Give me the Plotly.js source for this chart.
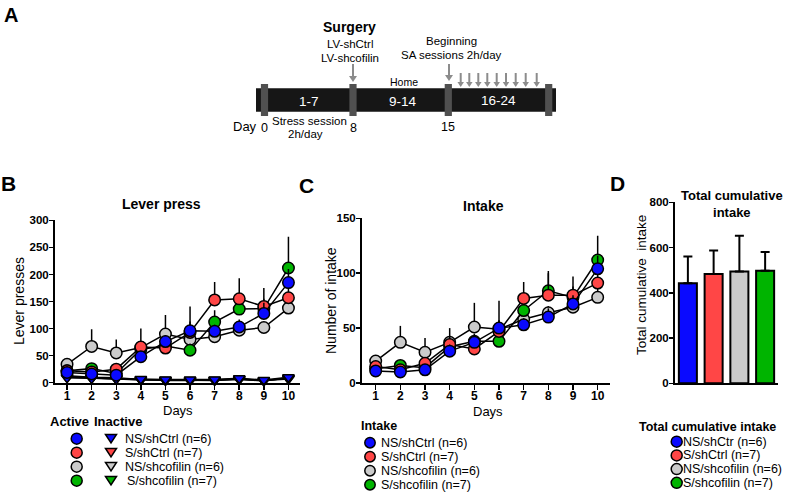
<!DOCTYPE html>
<html><head><meta charset="utf-8">
<script src="https://cdn.plot.ly/plotly-3.0.1.min.js"></script>
<style>html,body{margin:0;padding:0;background:#fff}#chart{width:789px;height:494px}</style>
</head><body><div id="chart"></div>
<script>
// ---------- data ----------
const groups = ['NS/shCtrl (n=6)', 'S/shCtrl (n=7)', 'NS/shcofilin (n=6)', 'S/shcofilin (n=7)'];
const groupsD = ['NS/shCtr (n=6)', 'S/shCtrl (n=7)', 'NS/shcofilin (n=6)', 'S/shcofilin (n=7)'];
const colors = ['#0a0aff', '#ff4646', '#cbcbcb', '#00b400'];
const days = [1, 2, 3, 4, 5, 6, 7, 8, 9, 10];

// B: lever presses, active lever (mean) and upward SEM
const activeNSshCtrl    = [19, 16, 14, 48, 76, 96, 95, 103, 128, 185];
const activeSshCtrl     = [22, 20, 25, 66, 64, 93, 153, 155, 141, 157];
const activeNSshcofilin = [34, 67, 55, 65, 90, 80, 85, 97, 102, 138];
const activeSshcofilin  = [22, 26, 17, 62, 68, 60, 112, 136, 137, 212];
const activeNSshCtrlSem    = [5, 4, 4, 10, 12, 45, 12, 14, 20, 25];
const activeSshCtrlSem     = [6, 5, 6, 34, 15, 20, 33, 38, 34, 30];
const activeNSshcofilinSem = [6, 32, 25, 12, 35, 14, 8, 8, 10, 25];
const activeSshcofilinSem  = [5, 6, 5, 10, 12, 12, 22, 15, 18, 58];
// B: inactive lever
const inactiveNSshCtrl    = [9, 8, 7, 7, 6, 6, 6, 8, 5, 10];
const inactiveSshCtrl     = [11, 9, 8, 5, 5, 4, 4, 6, 4, 8];
const inactiveNSshcofilin = [13, 10, 9, 6, 5, 5, 5, 7, 4, 7];
const inactiveSshcofilin  = [10, 8, 7, 6, 4, 4, 5, 7, 3, 9];

// C: intake
const intakeNSshCtrl    = [11, 10, 12, 29, 37, 50, 53, 60, 72, 104];
const intakeSshCtrl     = [15, 12, 18, 35, 31, 47, 77, 80, 80, 91];
const intakeNSshcofilin = [20, 37, 28, 37, 51, 49, 58, 64, 69, 78];
const intakeSshcofilin  = [13, 16, 14, 33, 38, 38, 66, 84, 78, 112];
const intakeNSshCtrlSem    = [3, 3, 3, 6, 8, 25, 6, 8, 8, 12];
const intakeSshCtrlSem     = [3, 3, 4, 15, 8, 10, 15, 20, 17, 12];
const intakeNSshcofilinSem = [4, 15, 13, 6, 22, 8, 5, 6, 6, 10];
const intakeSshcofilinSem  = [3, 4, 4, 6, 6, 8, 8, 18, 10, 22];

// D: total cumulative intake
const totalMeans = [442, 483, 494, 497];
const totalSem   = [118, 104, 158, 83];

// tick labels
const leverTicks = [0, 50, 100, 150, 200, 250, 300];
const intakeTicks = [0, 50, 100, 150];
const totalTicks = [0, 200, 400, 600, 800];

// ---------- helpers ----------
const W = 789, H = 494;
const px = v => v / W, py = v => 1 - v / H;
const FONT = 'Liberation Sans, Arial, Helvetica, sans-serif';
const zeros = n => new Array(n).fill(0);

function txt(text, x, y, size, o = {}) {
  return {text, x: px(x), y: py(y), xref: 'paper', yref: 'paper', showarrow: false,
    xanchor: o.xa || 'center', yanchor: 'middle', textangle: o.angle || 0,
    align: 'center', font: {family: FONT, size, color: o.color || '#000'}};
}
function circ(cx, cy, r, fill) {
  return {type: 'circle', xref: 'paper', yref: 'paper', x0: px(cx - r), x1: px(cx + r),
    y0: py(cy + r), y1: py(cy - r), fillcolor: fill, line: {color: '#000', width: 1.5}};
}
function tri(cx, cy, w, h, fill) {
  const p = `M${px(cx - w / 2)},${py(cy - h / 2)} L${px(cx + w / 2)},${py(cy - h / 2)} L${px(cx)},${py(cy + h / 2)} Z`;
  return {type: 'path', xref: 'paper', yref: 'paper', path: p, fillcolor: fill, line: {color: '#000', width: 1.5}};
}
function rect(x0, y0, x1, y1, fill) {
  return {type: 'rect', xref: 'paper', yref: 'paper', x0: px(x0), x1: px(x1), y0: py(y1), y1: py(y0),
    fillcolor: fill, line: {width: 0}};
}
function arrow(x, yTop, yTip, hw, hh, col) {
  return [
    {type: 'line', xref: 'paper', yref: 'paper', x0: px(x), x1: px(x), y0: py(yTop), y1: py(yTip - hh + 1), line: {color: col, width: 2}},
    {type: 'path', xref: 'paper', yref: 'paper', path: `M${px(x - hw / 2)},${py(yTip - hh)} L${px(x + hw / 2)},${py(yTip - hh)} L${px(x)},${py(yTip)} Z`, fillcolor: col, line: {width: 0}}
  ];
}

// ---------- traces ----------
const traces = [];
const drawOrder = [2, 3, 1, 0];
const inactive = [inactiveNSshCtrl, inactiveSshCtrl, inactiveNSshcofilin, inactiveSshcofilin];
const active = [activeNSshCtrl, activeSshCtrl, activeNSshcofilin, activeSshcofilin];
const activeSem = [activeNSshCtrlSem, activeSshCtrlSem, activeNSshcofilinSem, activeSshcofilinSem];
const intake = [intakeNSshCtrl, intakeSshCtrl, intakeNSshcofilin, intakeSshcofilin];
const intakeSem = [intakeNSshCtrlSem, intakeSshCtrlSem, intakeNSshcofilinSem, intakeSshcofilinSem];

drawOrder.forEach(i => traces.push({
  type: 'scatter', mode: 'lines+markers', x: days, y: inactive[i], xaxis: 'x', yaxis: 'y',
  name: 'Inactive ' + groups[i], showlegend: false, cliponaxis: false,
  line: {color: '#000', width: 1.5},
  marker: {symbol: 'triangle-down', size: 10, color: colors[i], line: {color: '#000', width: 1.5}}
}));
drawOrder.forEach(i => traces.push({
  type: 'scatter', mode: 'lines+markers', x: days, y: active[i], xaxis: 'x', yaxis: 'y',
  name: 'Active ' + groups[i], showlegend: false, cliponaxis: false,
  line: {color: '#000', width: 1.5},
  error_y: {type: 'data', symmetric: false, array: activeSem[i], arrayminus: zeros(days.length), color: '#000', thickness: 1.5, width: 0},
  marker: {symbol: 'circle', size: 11.5, color: colors[i], line: {color: '#000', width: 1.5}}
}));
drawOrder.forEach(i => traces.push({
  type: 'scatter', mode: 'lines+markers', x: days, y: intake[i], xaxis: 'x2', yaxis: 'y2',
  name: 'Intake ' + groups[i], showlegend: false, cliponaxis: false,
  line: {color: '#000', width: 1.5},
  error_y: {type: 'data', symmetric: false, array: intakeSem[i], arrayminus: zeros(days.length), color: '#000', thickness: 1.5, width: 0},
  marker: {symbol: 'circle', size: 11.5, color: colors[i], line: {color: '#000', width: 1.5}}
}));
traces.push({
  type: 'bar', x: groupsD, y: totalMeans, xaxis: 'x3', yaxis: 'y3', showlegend: false, cliponaxis: false,
  marker: {color: colors, line: {color: '#000', width: 2}},
  error_y: {type: 'data', symmetric: false, array: totalSem, arrayminus: zeros(totalSem.length), color: '#000', thickness: 2, width: 4.5}
});

// ---------- axes ----------
const tickFont = {family: FONT, size: 11.5, color: '#000', weight: 'bold'};
const baseAx = {showgrid: false, zeroline: false, showline: true, linecolor: '#000', linewidth: 2,
  ticks: 'outside', ticklen: 4, tickwidth: 1.5, tickcolor: '#000', tickfont: tickFont, automargin: false, fixedrange: true};
const xTickFont = Object.assign({}, tickFont, {size: 12});

const layout = {
  width: W, height: H, margin: {l: 0, r: 0, t: 0, b: 0}, paper_bgcolor: '#fff', plot_bgcolor: 'rgba(0,0,0,0)',
  showlegend: false, font: {family: FONT, color: '#000'},
  xaxis: Object.assign({}, baseAx, {domain: [px(55), px(300)], range: [0.51, 10.47], tickvals: days, ticklen: 5, anchor: 'y', tickfont: xTickFont, ticklabelstandoff: -4}),
  yaxis: Object.assign({}, baseAx, {domain: [py(382.7), py(220.4)], range: [0, 300], tickvals: leverTicks, anchor: 'x', ticklabelstandoff: -2}),
  xaxis2: Object.assign({}, baseAx, {domain: [px(362), px(610)], range: [0.445, 10.5], tickvals: days, ticklen: 5, anchor: 'y2', tickfont: xTickFont, ticklabelstandoff: -4}),
  yaxis2: Object.assign({}, baseAx, {domain: [py(383), py(218.3)], range: [0, 150], tickvals: intakeTicks, anchor: 'x2', ticklabelstandoff: -2}),
  xaxis3: Object.assign({}, baseAx, {domain: [px(675), px(778)], type: 'category', ticks: '', showticklabels: false, anchor: 'y3'}),
  yaxis3: Object.assign({}, baseAx, {domain: [py(383.3), py(202.3)], range: [0, 800], tickvals: totalTicks, anchor: 'x3', ticklabelstandoff: -2}),
  bargap: 0.3,
  shapes: [],
  annotations: []
};

const S = layout.shapes, A = layout.annotations;

// ---------- panel A: timeline ----------
S.push(rect(256, 88.3, 556, 111.7, '#161616'));
[264.5, 353, 448.3, 548.7].forEach(x => S.push(rect(x - 3.6, 84, x + 3.6, 116, '#505050')));
const arrowCol = '#8c8c8c';
S.push(...arrow(353, 64, 82, 8, 6, arrowCol));
S.push(...arrow(449, 64, 81, 8, 6, arrowCol));
[460.7, 469.3, 478.3, 487.3, 496.7, 506, 515.7, 525.7, 536.7].forEach(x => S.push(...arrow(x, 73, 87, 6.5, 5, arrowCol)));

A.push(txt('<b>A</b>', 10.5, 15, 20));
A.push(txt('<b>Surgery</b>', 349.5, 27, 14));
A.push(txt('LV-shCtrl', 349.5, 44, 11.5));
A.push(txt('LV-shcofilin', 349.5, 58, 11.5));
A.push(txt('Beginning', 451.7, 41, 11.5));
A.push(txt('SA sessions 2h/day', 451.7, 55, 11.5));
A.push(txt('Home', 403.5, 82, 10.5));
A.push(txt('1-7', 309.3, 101, 13.5, {color: '#fff'}));
A.push(txt('9-14', 403.3, 101, 13.5, {color: '#fff'}));
A.push(txt('16-24', 498.3, 100.5, 13.5, {color: '#fff'}));
A.push(txt('Day', 245, 126.5, 13));
A.push(txt('0', 264, 128, 12.5));
A.push(txt('Stress session', 309, 121, 11.5));
A.push(txt('2h/day', 305.5, 134.5, 11.5));
A.push(txt('8', 353, 128, 12.5));
A.push(txt('15', 448.3, 126.5, 12.5));

// ---------- panel B ----------
A.push(txt('<b>B</b>', 8.5, 184, 21));
A.push(txt('<b>Lever press</b>', 161, 203.5, 14));
A.push(txt('Lever presses', 18.5, 301.5, 14, {angle: -90}));
A.push(txt('Days', 178, 410.5, 13));
A.push(txt('<b>Active</b>', 69, 421.5, 13));
A.push(txt('<b>Inactive</b>', 118, 421.5, 13));
groups.forEach((g, i) => {
  const y = 438.7 + i * 14;
  S.push(circ(76.7, y, 5.5, colors[i]));
  S.push(tri(111, y, 11, 8.5, colors[i]));
  A.push(txt(g, i === 3 ? 125 : 122.5, y, 12.5, {xa: 'left'}));
});

// ---------- panel C ----------
A.push(txt('<b>C</b>', 306, 185, 21));
A.push(txt('<b>Intake</b>', 483.3, 206, 14));
A.push(txt('Number of intake', 330.5, 300.5, 14, {angle: -90}));
A.push(txt('Days', 488, 411, 13));
A.push(txt('<b>Intake</b>', 378.5, 426, 12.5));
groups.forEach((g, i) => {
  const y = 442.7 + i * 14;
  S.push(circ(370, y, 5.2, colors[i]));
  A.push(txt(g, 378.5, y, 12.5, {xa: 'left'}));
});

// ---------- panel D ----------
A.push(txt('<b>D</b>', 617.5, 184, 21));
A.push(txt('<b>Total cumulative</b><br><b>intake</b>', 732, 204, 13));
A.push(txt('Total cumulative  intake', 641, 285, 13.5, {angle: -90}));
A.push(txt('<b>Total cumulative intake</b>', 707.5, 426.7, 12.5));
groupsD.forEach((g, i) => {
  const y = 441.7 + i * 13.7;
  S.push(circ(676.7, y, 5.5, colors[i]));
  A.push(txt(g, 680.5, y, 12.5, {xa: 'left'}));
});

Plotly.newPlot('chart', traces, layout, {staticPlot: true, displayModeBar: false});
</script>
</body></html>
